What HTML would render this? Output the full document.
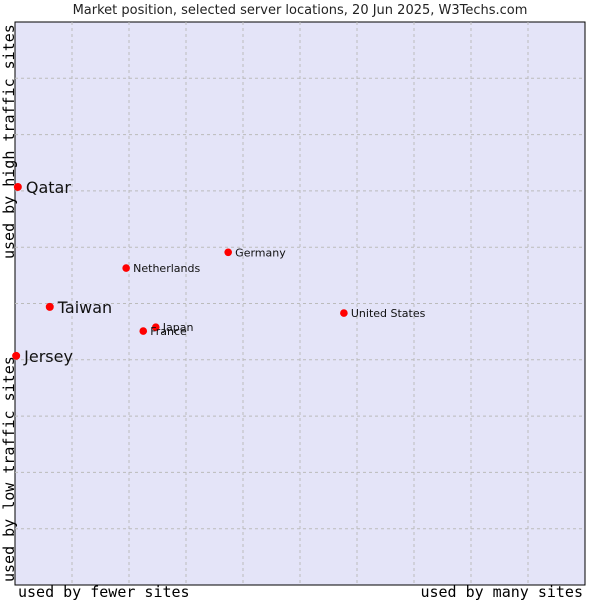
<!DOCTYPE html>
<html><head><meta charset="utf-8"><style>body{margin:0;background:#fff}svg{display:block}</style></head>
<body>
<svg width="600" height="600" xmlns="http://www.w3.org/2000/svg">
<text x="300" y="14" text-anchor="middle" font-family="DejaVu Sans, sans-serif" font-size="13" fill="#222">Market position, selected server locations, 20 Jun 2025, W3Techs.com</text>
<rect x="15" y="22" width="570" height="563" fill="#e4e4f8" stroke="#000" stroke-width="1"/>
<g id="grid"></g>
<g id="pts"></g>
<text x="18" y="597" font-family="DejaVu Sans Mono, monospace" font-size="15" fill="#000">used by fewer sites</text>
<text x="583" y="597" text-anchor="end" font-family="DejaVu Sans Mono, monospace" font-size="15" fill="#000">used by many sites</text>
<text transform="translate(14,582) rotate(-90)" font-family="DejaVu Sans Mono, monospace" font-size="15" fill="#000">used by low traffic sites</text>
<text transform="translate(14,259) rotate(-90)" font-family="DejaVu Sans Mono, monospace" font-size="15" fill="#000">used by high traffic sites</text>
</svg>
<script>
const names=["Qatar","Taiwan","Jersey","Netherlands","Germany","Japan","France","United States"];
const xs=[0.5,6.1,0.2,19.5,37.4,24.7,22.5,57.7];
const ys=[70.7,49.4,40.7,56.3,59.1,45.8,45.1,48.3];
const big=[true,true,true,false,false,false,false,false];
const L=15,T=22,W=570,H=563;
const sx=v=>L+v/100*W, sy=v=>T+H-v/100*H;
const NS="http://www.w3.org/2000/svg";
const g=document.getElementById('grid');
for(let i=1;i<10;i++){
 const a=document.createElementNS(NS,'line');
 
 
 const x=sx(i*10);a.setAttribute('x1',x);a.setAttribute('x2',x);a.setAttribute('y1',T);a.setAttribute('y2',T+H);
 a.setAttribute('stroke','#bbb');a.setAttribute('stroke-dasharray','3,3');g.appendChild(a);
 const b=document.createElementNS(NS,'line');
 
 
 const y=sy(i*10);b.setAttribute('x1',L);b.setAttribute('x2',L+W);b.setAttribute('y1',y);b.setAttribute('y2',y);
 b.setAttribute('stroke','#bbb');b.setAttribute('stroke-dasharray','3,3');g.appendChild(b);
}
const p=document.getElementById('pts');
names.forEach((n,i)=>{
 const x=sx(xs[i]),y=sy(ys[i]);
 const c=document.createElementNS(NS,'circle');
 
 
 c.setAttribute('cx',x);c.setAttribute('cy',y);c.setAttribute('r',big[i]?4:3.8);c.setAttribute('fill','#f00');p.appendChild(c);
 const t=document.createElementNS(NS,'text');
 
 
 t.setAttribute('x',x+(big[i]?8:7));t.setAttribute('y',y+(big[i]?6:4));
 t.setAttribute('font-family','DejaVu Sans, sans-serif');t.setAttribute('font-size',big[i]?16:11);t.setAttribute('fill','#111');
 t.textContent=n;p.appendChild(t);
});
</script>
</body></html>
